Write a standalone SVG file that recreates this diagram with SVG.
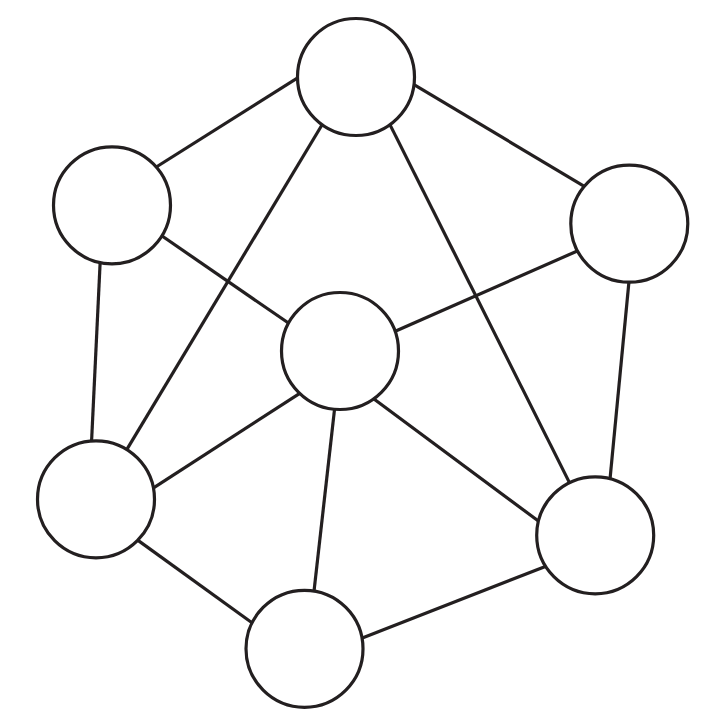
<svg xmlns="http://www.w3.org/2000/svg" width="726" height="726" viewBox="0 0 726 726">
<style>
.e{stroke:#231f20;stroke-width:3.2;fill:none}
.n{fill:#fff;stroke:#231f20;stroke-width:3.2}
</style>
<rect width="726" height="726" fill="#fff"/>
<g id="edges">
<line class="e" x1="302.8" y1="74.7" x2="151.5" y2="170"/>
<line class="e" x1="325.1" y1="119.8" x2="124.2" y2="453.9"/>
<line class="e" x1="157.4" y1="232.8" x2="293.9" y2="326.8"/>
<line class="e" x1="100.4" y1="257" x2="91.3" y2="447"/>
<line class="e" x1="409.4" y1="81.9" x2="588.9" y2="189.1"/>
<line class="e" x1="387.7" y1="120.1" x2="571.6" y2="486.9"/>
<line class="e" x1="583" y1="248.5" x2="390.7" y2="333.2"/>
<line class="e" x1="629.5" y1="276" x2="609.5" y2="484.3"/>
<line class="e" x1="304.4" y1="390.4" x2="149.3" y2="490.6"/>
<line class="e" x1="335.2" y1="403.4" x2="313.4" y2="596.6"/>
<line class="e" x1="370.6" y1="396.5" x2="542.1" y2="523.8"/>
<line class="e" x1="134.2" y1="537.6" x2="256.5" y2="626"/>
<line class="e" x1="357.2" y1="639.9" x2="550.5" y2="564.4"/>
</g>
<g id="n1"><circle class="n" cx="356" cy="77" r="58.5"/></g>
<g id="n2"><circle class="n" cx="112" cy="205.3" r="58.5"/></g>
<g id="n3"><circle class="n" cx="629.3" cy="223.7" r="58.5"/></g>
<g id="n4"><circle class="n" cx="340" cy="351" r="58.5"/></g>
<g id="n5"><circle class="n" cx="96" cy="499.3" r="58.5"/></g>
<g id="n6"><circle class="n" cx="595.2" cy="535.3" r="58.5"/></g>
<g id="n7"><circle class="n" cx="304.5" cy="648.8" r="58.5"/></g>
</svg>
